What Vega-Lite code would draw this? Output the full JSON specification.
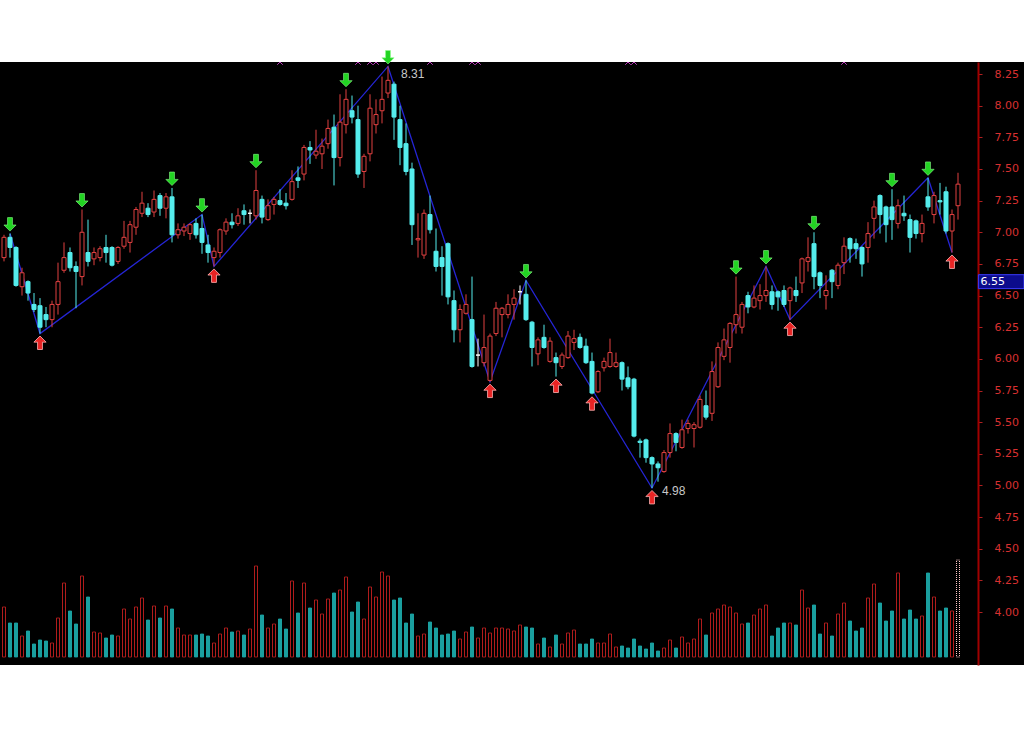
{
  "$schema": "https://vega.github.io/schema/vega-lite/v6.json",
  "width": 1024,
  "height": 603,
  "autosize": {"type": "none"},
  "padding": {"top": 62, "left": 0, "right": 0, "bottom": 74},
  "background": "#ffffff",
  "config": {
    "view": {"fill": "#000000", "stroke": null},
    "axis": {"labelOverlap": false, "labelBound": false, "labelFlush": false}
  },
  "datasets": {
    "bars": [
      {"i":0,"o":6.80,"h":6.98,"l":6.77,"c":6.96,"v":50},
      {"i":1,"o":6.96,"h":6.99,"l":6.80,"c":6.88,"v":34},
      {"i":2,"o":6.88,"h":6.89,"l":6.57,"c":6.58,"v":34},
      {"i":3,"o":6.57,"h":6.72,"l":6.50,"c":6.68,"v":21},
      {"i":4,"o":6.61,"h":6.62,"l":6.46,"c":6.52,"v":26},
      {"i":5,"o":6.43,"h":6.52,"l":6.37,"c":6.39,"v":13},
      {"i":6,"o":6.42,"h":6.48,"l":6.20,"c":6.25,"v":17},
      {"i":7,"o":6.35,"h":6.41,"l":6.25,"c":6.31,"v":16},
      {"i":8,"o":6.31,"h":6.46,"l":6.25,"c":6.43,"v":14},
      {"i":9,"o":6.43,"h":6.76,"l":6.35,"c":6.61,"v":39},
      {"i":10,"o":6.70,"h":6.92,"l":6.68,"c":6.80,"v":74},
      {"i":11,"o":6.84,"h":6.88,"l":6.69,"c":6.72,"v":46},
      {"i":12,"o":6.73,"h":6.77,"l":6.40,"c":6.69,"v":33},
      {"i":13,"o":6.65,"h":7.18,"l":6.58,"c":7.00,"v":81},
      {"i":14,"o":6.84,"h":7.10,"l":6.73,"c":6.77,"v":60},
      {"i":15,"o":6.79,"h":6.88,"l":6.74,"c":6.84,"v":25},
      {"i":16,"o":6.80,"h":6.89,"l":6.77,"c":6.87,"v":24},
      {"i":17,"o":6.88,"h":6.98,"l":6.76,"c":6.84,"v":19},
      {"i":18,"o":6.88,"h":6.89,"l":6.73,"c":6.74,"v":22},
      {"i":19,"o":6.77,"h":6.89,"l":6.75,"c":6.88,"v":21},
      {"i":20,"o":6.89,"h":7.09,"l":6.87,"c":6.96,"v":48},
      {"i":21,"o":6.92,"h":7.09,"l":6.84,"c":7.06,"v":38},
      {"i":22,"o":7.04,"h":7.20,"l":6.98,"c":7.18,"v":50},
      {"i":23,"o":7.15,"h":7.32,"l":7.12,"c":7.23,"v":59},
      {"i":24,"o":7.19,"h":7.23,"l":7.12,"c":7.14,"v":37},
      {"i":25,"o":7.16,"h":7.33,"l":7.12,"c":7.26,"v":51},
      {"i":26,"o":7.29,"h":7.31,"l":7.13,"c":7.19,"v":39},
      {"i":27,"o":7.19,"h":7.31,"l":7.11,"c":7.28,"v":51},
      {"i":28,"o":7.28,"h":7.35,"l":6.92,"c":6.98,"v":48},
      {"i":29,"o":6.98,"h":7.07,"l":6.95,"c":7.02,"v":29},
      {"i":30,"o":7.01,"h":7.07,"l":6.97,"c":7.04,"v":22},
      {"i":31,"o":6.99,"h":7.07,"l":6.94,"c":7.06,"v":22},
      {"i":32,"o":7.07,"h":7.11,"l":6.95,"c":6.98,"v":22},
      {"i":33,"o":7.03,"h":7.14,"l":6.83,"c":6.92,"v":23},
      {"i":34,"o":6.90,"h":6.98,"l":6.76,"c":6.84,"v":21},
      {"i":35,"o":6.80,"h":6.88,"l":6.73,"c":6.85,"v":14},
      {"i":36,"o":6.84,"h":7.03,"l":6.80,"c":7.02,"v":23},
      {"i":37,"o":7.01,"h":7.11,"l":6.98,"c":7.08,"v":29},
      {"i":38,"o":7.08,"h":7.15,"l":7.03,"c":7.06,"v":25},
      {"i":39,"o":7.07,"h":7.19,"l":7.05,"c":7.13,"v":26},
      {"i":40,"o":7.17,"h":7.22,"l":7.06,"c":7.14,"v":22},
      {"i":41,"o":7.15,"h":7.18,"l":7.07,"c":7.15,"v":28},
      {"i":42,"o":7.13,"h":7.49,"l":7.10,"c":7.33,"v":91},
      {"i":43,"o":7.26,"h":7.29,"l":7.07,"c":7.12,"v":42},
      {"i":44,"o":7.10,"h":7.26,"l":7.09,"c":7.21,"v":29},
      {"i":45,"o":7.22,"h":7.28,"l":7.14,"c":7.26,"v":33},
      {"i":46,"o":7.25,"h":7.34,"l":7.21,"c":7.22,"v":38},
      {"i":47,"o":7.23,"h":7.31,"l":7.18,"c":7.21,"v":28},
      {"i":48,"o":7.26,"h":7.49,"l":7.25,"c":7.40,"v":76},
      {"i":49,"o":7.43,"h":7.52,"l":7.35,"c":7.41,"v":44},
      {"i":50,"o":7.46,"h":7.69,"l":7.41,"c":7.67,"v":74},
      {"i":51,"o":7.67,"h":7.72,"l":7.54,"c":7.65,"v":49},
      {"i":52,"o":7.61,"h":7.81,"l":7.58,"c":7.64,"v":57},
      {"i":53,"o":7.62,"h":7.74,"l":7.50,"c":7.68,"v":43},
      {"i":54,"o":7.70,"h":7.89,"l":7.66,"c":7.82,"v":58},
      {"i":55,"o":7.83,"h":7.93,"l":7.37,"c":7.59,"v":64},
      {"i":56,"o":7.59,"h":8.09,"l":7.52,"c":7.87,"v":67},
      {"i":57,"o":7.85,"h":8.13,"l":7.78,"c":8.05,"v":80},
      {"i":58,"o":7.96,"h":8.08,"l":7.86,"c":7.91,"v":45},
      {"i":59,"o":7.89,"h":8.00,"l":7.43,"c":7.46,"v":55},
      {"i":60,"o":7.48,"h":7.62,"l":7.35,"c":7.60,"v":38},
      {"i":61,"o":7.62,"h":8.09,"l":7.56,"c":7.98,"v":70},
      {"i":62,"o":7.85,"h":8.05,"l":7.78,"c":7.93,"v":60},
      {"i":63,"o":7.96,"h":8.23,"l":7.86,"c":8.05,"v":85},
      {"i":64,"o":8.10,"h":8.31,"l":8.06,"c":8.20,"v":81},
      {"i":65,"o":8.17,"h":8.19,"l":7.73,"c":7.91,"v":57},
      {"i":66,"o":7.89,"h":8.00,"l":7.53,"c":7.67,"v":59},
      {"i":67,"o":7.70,"h":7.86,"l":7.45,"c":7.48,"v":34},
      {"i":68,"o":7.50,"h":7.55,"l":6.90,"c":7.06,"v":43},
      {"i":69,"o":6.94,"h":7.15,"l":6.80,"c":6.95,"v":21},
      {"i":70,"o":6.82,"h":7.18,"l":6.79,"c":7.15,"v":23},
      {"i":71,"o":7.14,"h":7.29,"l":6.99,"c":7.02,"v":35},
      {"i":72,"o":6.85,"h":7.03,"l":6.69,"c":6.73,"v":29},
      {"i":73,"o":6.80,"h":6.89,"l":6.50,"c":6.73,"v":22},
      {"i":74,"o":6.91,"h":6.92,"l":6.43,"c":6.49,"v":23},
      {"i":75,"o":6.46,"h":6.54,"l":6.13,"c":6.23,"v":26},
      {"i":76,"o":6.23,"h":6.43,"l":6.13,"c":6.39,"v":18},
      {"i":77,"o":6.36,"h":6.51,"l":6.35,"c":6.43,"v":25},
      {"i":78,"o":6.31,"h":6.65,"l":5.93,"c":5.94,"v":30},
      {"i":79,"o":6.03,"h":6.16,"l":5.94,"c":6.03,"v":19},
      {"i":80,"o":5.97,"h":6.35,"l":5.94,"c":6.09,"v":29},
      {"i":81,"o":5.83,"h":6.20,"l":5.82,"c":6.18,"v":24},
      {"i":82,"o":6.20,"h":6.45,"l":6.18,"c":6.40,"v":29},
      {"i":83,"o":6.35,"h":6.41,"l":6.17,"c":6.40,"v":29},
      {"i":84,"o":6.35,"h":6.51,"l":6.32,"c":6.43,"v":28},
      {"i":85,"o":6.43,"h":6.55,"l":6.31,"c":6.48,"v":26},
      {"i":86,"o":6.53,"h":6.58,"l":6.43,"c":6.53,"v":32},
      {"i":87,"o":6.51,"h":6.62,"l":6.30,"c":6.31,"v":30},
      {"i":88,"o":6.29,"h":6.30,"l":5.94,"c":6.09,"v":29},
      {"i":89,"o":6.04,"h":6.17,"l":5.95,"c":6.15,"v":13},
      {"i":90,"o":6.17,"h":6.27,"l":6.08,"c":6.09,"v":19},
      {"i":91,"o":5.98,"h":6.17,"l":5.97,"c":6.14,"v":10},
      {"i":92,"o":6.01,"h":6.05,"l":5.86,"c":5.97,"v":22},
      {"i":93,"o":5.94,"h":6.05,"l":5.92,"c":6.03,"v":13},
      {"i":94,"o":6.01,"h":6.22,"l":6.00,"c":6.18,"v":24},
      {"i":95,"o":6.13,"h":6.23,"l":6.07,"c":6.16,"v":27},
      {"i":96,"o":6.17,"h":6.20,"l":6.08,"c":6.09,"v":13},
      {"i":97,"o":6.10,"h":6.16,"l":5.96,"c":5.97,"v":13},
      {"i":98,"o":5.98,"h":6.05,"l":5.72,"c":5.73,"v":18},
      {"i":99,"o":5.74,"h":5.91,"l":5.73,"c":5.90,"v":14},
      {"i":100,"o":5.93,"h":6.01,"l":5.90,"c":5.98,"v":14},
      {"i":101,"o":5.94,"h":6.16,"l":5.93,"c":6.05,"v":23},
      {"i":102,"o":5.94,"h":6.05,"l":5.93,"c":5.97,"v":10},
      {"i":103,"o":5.97,"h":5.98,"l":5.75,"c":5.84,"v":11},
      {"i":104,"o":5.85,"h":5.94,"l":5.76,"c":5.78,"v":9},
      {"i":105,"o":5.84,"h":5.85,"l":5.38,"c":5.39,"v":18},
      {"i":106,"o":5.35,"h":5.37,"l":5.22,"c":5.34,"v":11},
      {"i":107,"o":5.36,"h":5.37,"l":5.18,"c":5.22,"v":8},
      {"i":108,"o":5.22,"h":5.23,"l":4.98,"c":5.17,"v":14},
      {"i":109,"o":5.17,"h":5.19,"l":5.03,"c":5.14,"v":6},
      {"i":110,"o":5.11,"h":5.28,"l":5.10,"c":5.26,"v":9},
      {"i":111,"o":5.26,"h":5.49,"l":5.22,"c":5.41,"v":17},
      {"i":112,"o":5.41,"h":5.42,"l":5.27,"c":5.34,"v":9},
      {"i":113,"o":5.30,"h":5.52,"l":5.29,"c":5.44,"v":20},
      {"i":114,"o":5.45,"h":5.52,"l":5.41,"c":5.49,"v":14},
      {"i":115,"o":5.45,"h":5.50,"l":5.30,"c":5.48,"v":18},
      {"i":116,"o":5.46,"h":5.71,"l":5.45,"c":5.68,"v":38},
      {"i":117,"o":5.63,"h":5.75,"l":5.52,"c":5.54,"v":22},
      {"i":118,"o":5.57,"h":5.98,"l":5.51,"c":5.90,"v":44},
      {"i":119,"o":5.78,"h":6.13,"l":5.77,"c":6.09,"v":48},
      {"i":120,"o":6.02,"h":6.24,"l":5.99,"c":6.15,"v":52},
      {"i":121,"o":6.09,"h":6.29,"l":5.97,"c":6.28,"v":50},
      {"i":122,"o":6.27,"h":6.65,"l":6.20,"c":6.35,"v":44},
      {"i":123,"o":6.25,"h":6.45,"l":6.20,"c":6.43,"v":33},
      {"i":124,"o":6.50,"h":6.53,"l":6.36,"c":6.41,"v":34},
      {"i":125,"o":6.41,"h":6.58,"l":6.40,"c":6.48,"v":42},
      {"i":126,"o":6.46,"h":6.59,"l":6.39,"c":6.50,"v":48},
      {"i":127,"o":6.50,"h":6.73,"l":6.45,"c":6.54,"v":52},
      {"i":128,"o":6.53,"h":6.58,"l":6.39,"c":6.43,"v":21},
      {"i":129,"o":6.53,"h":6.54,"l":6.38,"c":6.49,"v":29},
      {"i":130,"o":6.54,"h":6.58,"l":6.41,"c":6.43,"v":34},
      {"i":131,"o":6.46,"h":6.57,"l":6.31,"c":6.56,"v":34},
      {"i":132,"o":6.54,"h":6.65,"l":6.45,"c":6.50,"v":32},
      {"i":133,"o":6.60,"h":6.80,"l":6.52,"c":6.79,"v":67},
      {"i":134,"o":6.77,"h":6.96,"l":6.69,"c":6.80,"v":49},
      {"i":135,"o":6.91,"h":7.00,"l":6.55,"c":6.65,"v":52},
      {"i":136,"o":6.68,"h":6.69,"l":6.48,"c":6.58,"v":23},
      {"i":137,"o":6.50,"h":6.66,"l":6.39,"c":6.54,"v":34},
      {"i":138,"o":6.70,"h":6.71,"l":6.48,"c":6.61,"v":21},
      {"i":139,"o":6.58,"h":6.76,"l":6.55,"c":6.74,"v":43},
      {"i":140,"o":6.76,"h":6.96,"l":6.67,"c":6.89,"v":54},
      {"i":141,"o":6.95,"h":6.96,"l":6.76,"c":6.87,"v":36},
      {"i":142,"o":6.91,"h":6.95,"l":6.79,"c":6.87,"v":26},
      {"i":143,"o":6.88,"h":6.89,"l":6.65,"c":6.75,"v":29},
      {"i":144,"o":6.88,"h":7.08,"l":6.76,"c":6.99,"v":59},
      {"i":145,"o":7.11,"h":7.25,"l":6.95,"c":7.20,"v":73},
      {"i":146,"o":7.29,"h":7.30,"l":6.99,"c":7.14,"v":54},
      {"i":147,"o":7.20,"h":7.21,"l":6.92,"c":7.06,"v":36},
      {"i":148,"o":7.20,"h":7.34,"l":6.94,"c":7.10,"v":46},
      {"i":149,"o":7.07,"h":7.26,"l":7.03,"c":7.21,"v":84},
      {"i":150,"o":7.15,"h":7.29,"l":7.09,"c":7.13,"v":38},
      {"i":151,"o":7.10,"h":7.14,"l":6.84,"c":6.96,"v":47},
      {"i":152,"o":7.09,"h":7.10,"l":6.95,"c":6.99,"v":38},
      {"i":153,"o":6.99,"h":7.14,"l":6.92,"c":7.07,"v":41},
      {"i":154,"o":7.28,"h":7.43,"l":7.17,"c":7.20,"v":84},
      {"i":155,"o":7.14,"h":7.32,"l":7.07,"c":7.29,"v":60},
      {"i":156,"o":7.25,"h":7.39,"l":7.14,"c":7.24,"v":46},
      {"i":157,"o":7.32,"h":7.36,"l":6.99,"c":7.01,"v":49},
      {"i":158,"o":7.01,"h":7.18,"l":6.84,"c":7.14,"v":46},
      {"i":159,"o":7.21,"h":7.47,"l":7.10,"c":7.38,"v":97}
    ],
    "peaks": [
      {"i":1,"p":6.99},{"i":13,"p":7.18},{"i":28,"p":7.35},{"i":33,"p":7.14},{"i":42,"p":7.49},
      {"i":57,"p":8.13},{"i":64,"p":8.31},{"i":87,"p":6.62},{"i":122,"p":6.65},{"i":127,"p":6.73},
      {"i":135,"p":7.00},{"i":148,"p":7.34},{"i":154,"p":7.43}
    ],
    "troughs": [
      {"i":6,"p":6.20},{"i":35,"p":6.73},{"i":81,"p":5.82},{"i":92,"p":5.86},
      {"i":98,"p":5.72},{"i":108,"p":4.98},{"i":131,"p":6.31},{"i":158,"p":6.84}
    ],
    "zigzag": [
      {"i":1,"p":6.99},{"i":6,"p":6.20},{"i":33,"p":7.14},{"i":35,"p":6.73},{"i":64,"p":8.31},
      {"i":81,"p":5.82},{"i":87,"p":6.62},{"i":108,"p":4.98},{"i":127,"p":6.73},{"i":131,"p":6.31},
      {"i":154,"p":7.43},{"i":158,"p":6.84}
    ],
    "marks": [
      {"i":46},{"i":59},{"i":61},{"i":62},{"i":71},{"i":78},{"i":79},{"i":104},{"i":105},{"i":140}
    ]
  },
  "layer": [
    {
      "data": {"name": "bars"},
      "mark": {"type": "bar", "width": 3, "strokeWidth": 1},
      "encoding": {
        "x": {"field": "i", "type": "quantitative", "scale": {"domain": [-0.6667, 170], "nice": false, "zero": false, "padding": 0}, "axis": null},
        "y": {"field": "v", "type": "quantitative", "scale": {"domain": [-8, 595], "nice": false, "zero": false, "padding": 0}, "axis": null},
        "y2": {"datum": 0},
        "fill": {"condition": {"test": "datum.c >= datum.o", "value": "#000000"}, "value": "#1a9f9f"},
        "stroke": {"condition": [{"test": "datum.i == 159", "value": "#ffc8c8"}, {"test": "datum.c >= datum.o", "value": "#b01c1c"}], "value": "#1a9f9f"},
        "strokeDash": {"condition": {"test": "datum.i == 159", "value": [1, 1]}, "value": [1, 0]}
      }
    },
    {
      "layer": [
        {
          "data": {"name": "zigzag"},
          "mark": {"type": "line", "color": "#2525d5", "strokeWidth": 1.3},
          "encoding": {
            "x": {"field": "i", "type": "quantitative", "scale": {"domain": [-0.6667, 170], "nice": false, "zero": false, "padding": 0}, "axis": null},
            "y": {
              "field": "p", "type": "quantitative",
              "scale": {"domain": [3.582, 8.345], "nice": false, "zero": false, "padding": 0},
              "axis": {
                "orient": "right", "offset": -46, "title": null, "grid": false,
                "values": [4, 4.25, 4.5, 4.75, 5, 5.25, 5.5, 5.75, 6, 6.25, 6.5, 6.75, 7, 7.25, 7.5, 7.75, 8, 8.25],
                "tickCount": 18,
                "format": ".2f", "labelOverlap": false, "labelBound": false,
                "domainColor": "#a00000", "domainWidth": 2,
                "tickColor": "#b02020", "tickSize": 4, "tickWidth": 1,
                "labelColor": "#d83030", "labelFont": "DejaVu Sans", "labelFontSize": 11,
                "labelPadding": 12, "labelBaseline": "middle"
              }
            }
          }
        },
        {
          "data": {"name": "bars"},
          "mark": {"type": "rule", "strokeWidth": 1},
          "encoding": {
            "x": {"field": "i", "type": "quantitative"},
            "y": {"field": "l", "type": "quantitative"},
            "y2": {"field": "h"},
            "stroke": {"condition": [{"test": "datum.c > datum.o", "value": "#e04040"}, {"test": "datum.c < datum.o", "value": "#55ecec"}], "value": "#ffffff"}
          }
        },
        {
          "data": {"name": "bars"},
          "mark": {"type": "bar", "width": 4, "strokeWidth": 1},
          "encoding": {
            "x": {"field": "i", "type": "quantitative"},
            "y": {"field": "o", "type": "quantitative"},
            "y2": {"field": "c"},
            "fill": {"condition": [{"test": "datum.c > datum.o", "value": "#000000"}, {"test": "datum.c < datum.o", "value": "#55ecec"}], "value": "#ffffff"},
            "stroke": {"condition": [{"test": "datum.c > datum.o", "value": "#e04040"}, {"test": "datum.c < datum.o", "value": "#55ecec"}], "value": "#ffffff"}
          }
        },
        {
          "data": {"name": "peaks"},
          "mark": {"type": "point", "shape": "M-0.4,-2.6L0.4,-2.6L0.4,-1.4L1,-1.4L0,-0.4L-1,-1.4L-0.4,-1.4Z", "size": 150, "filled": true, "fill": "#22d422", "stroke": "#8cff8c", "strokeWidth": 0.6, "opacity": 1},
          "encoding": {
            "x": {"field": "i", "type": "quantitative"},
            "y": {"field": "p", "type": "quantitative"}
          }
        },
        {
          "data": {"name": "troughs"},
          "mark": {"type": "point", "shape": "M-0.4,2.6L0.4,2.6L0.4,1.4L1,1.4L0,0.4L-1,1.4L-0.4,1.4Z", "size": 150, "filled": true, "fill": "#e82424", "stroke": "#ffb4b4", "strokeWidth": 0.8, "opacity": 1},
          "encoding": {
            "x": {"field": "i", "type": "quantitative"},
            "y": {"field": "p", "type": "quantitative"}
          }
        },
        {
          "data": {"values": [{"i": 64, "p": 8.31, "t": "8.31"}]},
          "mark": {"type": "text", "align": "left", "baseline": "middle", "dx": 13, "dy": 8, "font": "Liberation Sans", "fontSize": 12, "color": "#c8c8c8"},
          "encoding": {
            "x": {"field": "i", "type": "quantitative"},
            "y": {"field": "p", "type": "quantitative"},
            "text": {"field": "t"}
          }
        },
        {
          "data": {"values": [{"i": 108, "p": 4.98, "t": "4.98"}]},
          "mark": {"type": "text", "align": "left", "baseline": "middle", "dx": 10, "dy": 3, "font": "Liberation Sans", "fontSize": 12, "color": "#c8c8c8"},
          "encoding": {
            "x": {"field": "i", "type": "quantitative"},
            "y": {"field": "p", "type": "quantitative"},
            "text": {"field": "t"}
          }
        },
        {
          "data": {"name": "marks"},
          "mark": {"type": "point", "shape": "M-1,-1L1,1M-1,1L1,-1", "size": 30, "filled": false, "stroke": "#c040c0", "strokeWidth": 1, "clip": true, "opacity": 1},
          "encoding": {
            "x": {"field": "i", "type": "quantitative"},
            "y": {"datum": 8.345, "type": "quantitative"}
          }
        },
        {
          "data": {"values": [{"t": "6.55"}]},
          "mark": {"type": "rect", "fill": "#0c0c8c", "stroke": "#3c3cff", "strokeWidth": 1},
          "encoding": {
            "x": {"datum": 162.4, "type": "quantitative"},
            "x2": {"datum": 170},
            "y": {"datum": 6.665, "type": "quantitative"},
            "y2": {"datum": 6.555}
          }
        },
        {
          "data": {"values": [{"t": "6.55"}]},
          "mark": {"type": "text", "align": "left", "baseline": "middle", "dx": 2, "font": "DejaVu Sans", "fontSize": 11, "color": "#ffffff"},
          "encoding": {
            "x": {"datum": 162.4, "type": "quantitative"},
            "y": {"datum": 6.61, "type": "quantitative"},
            "text": {"field": "t"}
          }
        }
      ]
    }
  ],
  "resolve": {"scale": {"y": "independent"}, "axis": {"y": "independent"}}
}
